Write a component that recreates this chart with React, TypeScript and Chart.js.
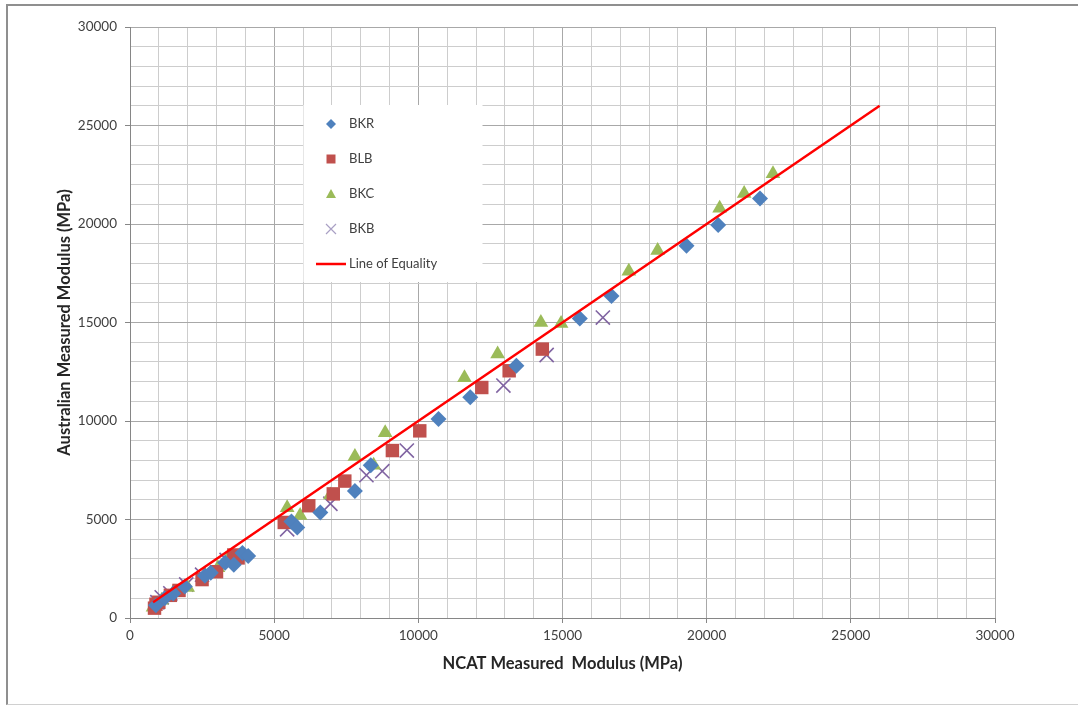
import React, { useEffect, useRef } from 'react';
import { Chart, registerables } from 'chart.js';

Chart.register(...registerables);

// ---- Data (MPa) ----
const bkrX = [900, 1200, 1500, 1900, 2600, 2800, 3300, 3600, 3900, 4100, 5600, 5800, 6600, 7800, 8350, 10700, 11800, 13400, 15600, 16700, 19300, 20400, 21850];
const bkrY = [650, 1000, 1250, 1600, 2150, 2300, 2800, 2700, 3300, 3150, 4900, 4600, 5350, 6450, 7750, 10100, 11200, 12800, 15200, 16350, 18900, 19950, 21300];

const blbX = [850, 900, 1000, 1400, 1700, 2500, 3000, 3600, 3750, 5350, 6200, 7050, 7450, 9100, 10050, 12200, 13150, 14300];
const blbY = [500, 700, 800, 1150, 1400, 1950, 2350, 3200, 3050, 4850, 5700, 6300, 6950, 8500, 9500, 11700, 12550, 13650];

const bkcX = [800, 1100, 1500, 2000, 2600, 3050, 3400, 3800, 5450, 5900, 6950, 7800, 8450, 8850, 11600, 12750, 14250, 14950, 17300, 18300, 20450, 21300, 22300];
const bkcY = [550, 900, 1300, 1550, 2200, 2550, 3050, 3150, 5600, 5200, 6250, 8200, 7750, 9400, 12200, 13400, 15000, 14950, 17600, 18650, 20800, 21550, 22550];

const bkbX = [950, 1100, 1400, 1950, 2500, 3350, 5450, 6950, 8200, 8750, 9600, 12950, 14450, 16400];
const bkbY = [800, 1050, 1250, 1700, 2200, 2950, 4500, 5800, 7250, 7450, 8500, 11800, 13350, 15250];

const equalityX = [800, 26000];
const equalityY = [800, 26000];

const seriesLabels = ['BKR', 'BLB', 'BKC', 'BKB', 'Line of Equality'];
const axisMin = 0;
const axisMax = 30000;
const minorStep = 1000;
const majorStep = 5000;

const BLUE = '#4F81BD';
const RED = '#C0504D';
const GREEN = '#9BBB59';
const PURPLE = '#8064A2';
const LINE_RED = '#FF0000';
const FONT = 'Lato, "Open Sans", sans-serif';

const pts = (xs: number[], ys: number[]) => xs.map((x, i) => ({ x, y: ys[i] }));

function drawMarker(ctx: CanvasRenderingContext2D, kind: string, cx: number, cy: number, color: string) {
  ctx.save();
  ctx.fillStyle = color;
  ctx.strokeStyle = color;
  ctx.beginPath();
  if (kind === 'diamond') {
    const r = 5;
    ctx.moveTo(cx - r, cy);
    ctx.lineTo(cx, cy - r);
    ctx.lineTo(cx + r, cy);
    ctx.lineTo(cx, cy + r);
    ctx.closePath();
    ctx.fill();
  } else if (kind === 'square') {
    ctx.rect(cx - 4.5, cy - 4.5, 9, 9);
    ctx.fill();
  } else if (kind === 'triangle') {
    ctx.moveTo(cx, cy - 5);
    ctx.lineTo(cx + 5, cy + 4);
    ctx.lineTo(cx - 5, cy + 4);
    ctx.closePath();
    ctx.fill();
  } else if (kind === 'cross') {
    ctx.lineWidth = 1.2;
    ctx.strokeStyle = '#a9a0c4';
    ctx.moveTo(cx - 5, cy - 5);
    ctx.lineTo(cx + 5, cy + 5);
    ctx.moveTo(cx + 5, cy - 5);
    ctx.lineTo(cx - 5, cy + 5);
    ctx.stroke();
  } else if (kind === 'line') {
    ctx.lineWidth = 2.5;
    ctx.moveTo(cx - 15, cy);
    ctx.lineTo(cx + 15, cy);
    ctx.stroke();
  }
  ctx.restore();
}

const insideLegend = {
  id: 'insideLegend',
  beforeDatasetsDraw(chart: any) {
    const ctx: CanvasRenderingContext2D = chart.ctx;
    const left = 303;
    const top = 105;
    const w = 179;
    const h = 177;
    ctx.save();
    ctx.fillStyle = '#ffffff';
    ctx.fillRect(left + 0.5, top, w, h);
    const kinds = ['diamond', 'square', 'triangle', 'cross', 'line'];
    const colors = [BLUE, RED, GREEN, PURPLE, LINE_RED];
    ctx.font = `13px ${FONT}`;
    ctx.textBaseline = 'middle';
    ctx.textAlign = 'left';
    seriesLabels.forEach((lab, i) => {
      const cy = top + 19 + i * 35;
      drawMarker(ctx, kinds[i], 331, cy, colors[i]);
      ctx.fillStyle = '#404040';
      ctx.fillText(lab, 349, cy);
    });
    ctx.restore();
  },
};

const isMajor = (v: number) => Math.abs(v % majorStep) < 1e-6;

export default function App() {
  const canvasRef = useRef<HTMLCanvasElement | null>(null);

  useEffect(() => {
    if (!canvasRef.current) return;
    const tickFont = { family: FONT, size: 13.5 };
    const titleFont = { family: FONT, size: 16.5, weight: 'bold' as const };
    const gridColor = (c: any) => (c.tick && isMajor(c.tick.value) ? '#a8a8a8' : '#cdcdcd');
    const tickColor = (c: any) => (c.tick && isMajor(c.tick.value) ? '#868686' : 'rgba(0,0,0,0)');
    const chart = new Chart(canvasRef.current, {
      type: 'scatter',
      data: {
        datasets: [
          {
            label: seriesLabels[4],
            data: pts(equalityX, equalityY),
            showLine: true,
            borderColor: LINE_RED,
            backgroundColor: LINE_RED,
            borderWidth: 2.5,
            pointRadius: 0,
            order: -1,
          } as any,
          {
            label: seriesLabels[0],
            data: pts(bkrX, bkrY),
            pointStyle: 'rectRot',
            pointRadius: 8,
            backgroundColor: BLUE,
            borderColor: BLUE,
            borderWidth: 0,
          },
          {
            label: seriesLabels[1],
            data: pts(blbX, blbY),
            pointStyle: 'rect',
            pointRadius: 9.5,
            backgroundColor: RED,
            borderColor: RED,
            borderWidth: 0,
          },
          {
            label: seriesLabels[2],
            data: pts(bkcX, bkcY),
            pointStyle: 'triangle',
            pointRadius: 8.5,
            backgroundColor: GREEN,
            borderColor: GREEN,
            borderWidth: 0,
          },
          {
            label: seriesLabels[3],
            data: pts(bkbX, bkbY),
            pointStyle: 'crossRot',
            pointRadius: 10,
            backgroundColor: PURPLE,
            borderColor: PURPLE,
            borderWidth: 1.6,
          },
        ],
      },
      options: {
        animation: false,
        responsive: false,
        maintainAspectRatio: false,
        layout: { padding: { left: 0, top: 27, right: 83, bottom: 0 } },
        plugins: {
          legend: { display: false },
          tooltip: { enabled: false },
        },
        scales: {
          x: {
            type: 'linear',
            min: axisMin,
            max: axisMax,
            ticks: {
              stepSize: minorStep,
              autoSkip: false,
              maxRotation: 0,
              callback: (v: any) => (isMajor(Number(v)) ? String(v) : ''),
              color: '#404040',
              font: tickFont,
              padding: 5,
            },
            grid: { color: gridColor, tickColor, tickLength: 5, lineWidth: 1 },
            border: { color: '#868686', width: 1 },
            title: {
              display: true,
              text: 'NCAT Measured  Modulus (MPa)',
              color: '#262626',
              font: titleFont,
              padding: { top: 0, bottom: 31 },
            },
            afterFit: (s: any) => {
              s.height = 87;
            },
          },
          y: {
            type: 'linear',
            min: axisMin,
            max: axisMax,
            ticks: {
              stepSize: minorStep,
              autoSkip: false,
              callback: (v: any) => (isMajor(Number(v)) ? String(v) : ''),
              color: '#404040',
              font: tickFont,
              padding: 8,
            },
            grid: { color: gridColor, tickColor, tickLength: 5, lineWidth: 1 },
            border: { color: '#868686', width: 1 },
            title: {
              display: true,
              text: 'Australian Measured Modulus (MPa)',
              color: '#262626',
              font: titleFont,
              padding: { top: 55, bottom: 0 },
            },
            afterFit: (s: any) => {
              s.width = 130;
            },
          },
        },
      },
      plugins: [insideLegend],
    });
    return () => chart.destroy();
  }, []);

  return (
    <div style={{ position: 'fixed', left: 0, top: 0, width: 1078, height: 705, background: '#ffffff', overflow: 'hidden' }}>
      <canvas ref={canvasRef} width={1078} height={705} style={{ position: 'absolute', left: 0, top: 0, width: 1078, height: 705 }} />
      <div
        style={{
          position: 'absolute',
          left: 6,
          top: 4,
          width: 1100,
          height: 698,
          borderLeft: '2px solid #8f8f8f',
          borderTop: '2px solid #8f8f8f',
          borderBottom: '1px solid #d0d0d0',
          pointerEvents: 'none',
        }}
      />
    </div>
  );
}
